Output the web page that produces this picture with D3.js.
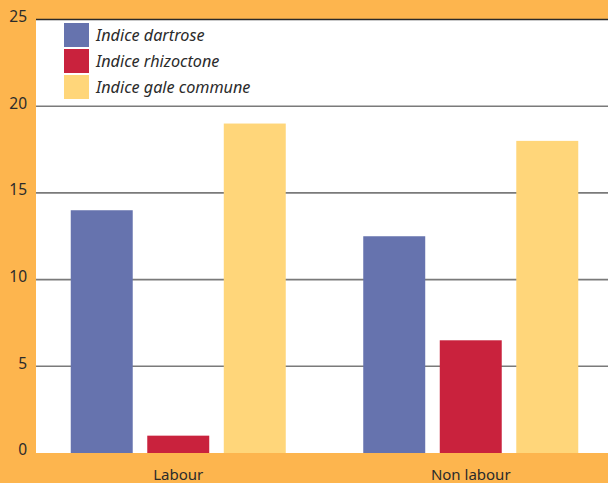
<!DOCTYPE html>
<html>
<head>
<meta charset="utf-8">
<script src="https://cdn.jsdelivr.net/npm/d3@7"></script>
<style>
  html, body { margin: 0; padding: 0; background: #FDB54E; }
  svg { display: block; }
</style>
</head>
<body>
<svg id="chart" width="608" height="483"></svg>
<script>
// Disease indices by soil tillage practice
const categories = ["Labour", "Non labour"];
const seriesNames = ["Indice dartrose", "Indice rhizoctone", "Indice gale commune"];
const dartrose = [14, 12.5];
const rhizoctone = [1, 6.5];
const galeCommune = [19, 18];
const yTicks = [0, 5, 10, 15, 20, 25];
const colors = ["#6673AE", "#C9223D", "#FFD67A"];

const seriesValues = [dartrose, rhizoctone, galeCommune];
const rows = categories.map((c, i) => ({
  category: c,
  values: seriesNames.map((s, j) => ({ series: s, value: seriesValues[j][i], color: colors[j] }))
}));

const svg = d3.select("#chart");
const W = 608, H = 483;
const plot = { left: 36, right: 608, top: 19.5, bottom: 453 };

// Orange frame, white plotting area
svg.append("rect").attr("width", W).attr("height", H).attr("fill", "#FDB54E");
svg.append("rect")
  .attr("x", plot.left).attr("y", plot.top)
  .attr("width", plot.right - plot.left).attr("height", plot.bottom - plot.top)
  .attr("fill", "#ffffff");

const y = d3.scaleLinear().domain([0, 25]).range([plot.bottom, plot.top]);
const x0 = d3.scaleBand().domain(categories).range([32, 617]).padding(0);
const x1 = d3.scaleBand().domain(seriesNames).range([-107.5, 107.5]).paddingInner(0.19).paddingOuter(0);

// Gridlines
svg.append("g").selectAll("line")
  .data(yTicks.filter(t => t > 0))
  .join("line")
  .attr("x1", plot.left).attr("x2", plot.right)
  .attr("y1", d => y(d)).attr("y2", d => y(d))
  .attr("stroke", d => d === 25 ? "#2a2a2a" : "#7a7a7a")
  .attr("stroke-width", 1.6);

// Y-axis tick labels
const yAxis = d3.axisLeft(y).tickValues(yTicks).tickSize(0).tickPadding(0);
const ga = svg.append("g").attr("transform", `translate(27,-3)`).call(yAxis);
ga.select(".domain").remove();
ga.selectAll("text")
  .attr("font-family", "'Noto Sans', sans-serif")
  .attr("font-size", 15.5)
  .attr("fill", "#2b2b2b");

// Bars
const groups = svg.append("g").selectAll("g")
  .data(rows)
  .join("g")
  .attr("transform", d => `translate(${x0(d.category) + x0.bandwidth() / 2},0)`);

groups.selectAll("rect")
  .data(d => d.values)
  .join("rect")
  .attr("x", d => x1(d.series))
  .attr("width", x1.bandwidth())
  .attr("y", d => y(d.value))
  .attr("height", d => y(0) - y(d.value))
  .attr("fill", d => d.color);

// Category labels
svg.append("g").selectAll("text")
  .data(categories)
  .join("text")
  .attr("x", d => x0(d) + x0.bandwidth() / 2)
  .attr("y", 480)
  .attr("text-anchor", "middle")
  .attr("font-family", "'Noto Sans', sans-serif")
  .attr("font-size", 15)
  .attr("fill", "#2b2b2b")
  .text(d => d);

// Legend
const legend = svg.append("g").attr("transform", "translate(64,23)");
const item = legend.selectAll("g")
  .data(seriesNames)
  .join("g")
  .attr("transform", (d, i) => `translate(0,${i * 26})`);
item.append("rect")
  .attr("width", 25).attr("height", 24)
  .attr("fill", (d, i) => colors[i]);
item.append("text")
  .attr("x", 32).attr("y", 12)
  .attr("dominant-baseline", "central")
  .attr("font-family", "'Noto Sans', sans-serif")
  .attr("font-style", "italic")
  .attr("font-size", 16.2)
  .attr("fill", "#2b2b2b")
  .text(d => d);
</script>
</body>
</html>
